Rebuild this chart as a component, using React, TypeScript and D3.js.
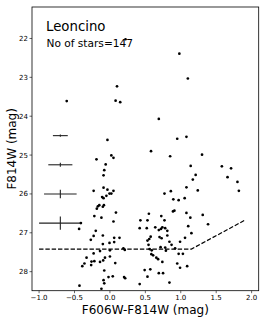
import React from "react";
import * as d3 from "d3";

const title = "Leoncino";
const subtitle = "No of stars=147";
const xLabel = "F606W-F814W (mag)";
const yLabel = "F814W (mag)";
const xTicks = [-1.0, -0.5, 0.0, 0.5, 1.0, 1.5, 2.0];
const yTicks = [22, 23, 24, 25, 26, 27, 28];

// star colours (F606W-F814W) and magnitudes (F814W)
const starColor = [
  0.98, 1.10, 0.10, -0.61, 0.08, 0.145, 0.69, -0.035, 0.95, 0.22,
  1.08, 0.58, 0.85, 1.30, 1.14, 1.58, 1.71, 1.21, 1.17, 1.66,
  1.80, 1.08, 1.82, 1.24, 0.86, 0.77, 0.895, 0.97, 1.055, -0.19,
  0.02, 0.05, -0.06, -0.08, -0.09, -0.23, -0.09, -0.035, 0.05, -0.006,
  0.02, -0.05, -0.11, -0.09, -0.15, -0.17, -0.185, -0.085, -0.10, 0.085,
  -0.22, -0.12, 0.05, -0.41, 0.55, 0.43, 0.53, 0.89, 0.91, 0.725,
  0.77, 1.08, 1.135, 1.31, 1.385, 1.105, 0.64, 0.69, 0.72, 0.74,
  0.78, 0.81, 0.70, 0.73, 0.81, 1.15, 1.06, 0.84, 0.87, 0.715,
  0.78, 0.92, 0.79, 0.99, 0.61, 0.655, 0.68, 0.74, 0.97, 1.03,
  0.57, 0.95, 0.99, 1.09, 0.69, 0.75, 0.84, -0.435, -0.20, -0.23,
  -0.27, -0.10, 0.06, 0.135, 0.06, -0.006, -0.10, -0.14, -0.23, 0.0,
  0.19, 0.21, -0.33, -0.36, -0.39, -0.26, -0.265, -0.22, -0.14, -0.095,
  0.0, -0.07, 0.075, -0.08, -0.02, 0.04, -0.09, -0.08, 0.20, 0.215,
  -0.43, -0.12, 0.42, 0.42, 0.52, 0.575, 0.555, 0.53, 0.545, 0.56,
  0.59, 0.585, 0.49, 0.53,
];
const starMag = [
  22.39, 23.03, 23.23, 23.61, 23.60, 23.64, 24.07, 24.61, 24.58, 22.02,
  24.53, 24.90, 25.03, 24.99, 25.28, 25.29, 25.34, 25.51, 25.63, 25.57,
  25.69, 25.83, 25.92, 25.91, 25.93, 25.99, 26.14, 26.16, 26.11, 25.11,
  25.01, 25.07, 25.24, 25.39, 25.52, 25.92, 25.84, 25.89, 25.92, 25.99,
  25.99, 26.05, 26.08, 26.11, 26.29, 26.32, 26.38, 26.29, 26.33, 26.48,
  26.57, 26.61, 26.71, 26.75, 26.51, 26.68, 26.68, 26.45, 26.43, 26.57,
  26.68, 26.49, 26.61, 26.54, 26.78, 26.83, 26.86, 26.93, 26.90, 26.86,
  26.88, 26.95, 27.11, 27.14, 27.07, 27.01, 27.13, 27.23, 27.31, 27.37,
  27.38, 27.40, 27.46, 27.23, 27.58, 27.64, 27.68, 27.75, 27.54, 27.54,
  27.94, 27.79, 27.90, 27.86, 28.04, 28.04, 28.28, 26.90, 26.95, 27.08,
  27.18, 27.07, 27.13, 27.13, 27.24, 27.26, 27.29, 27.47, 27.53, 27.45,
  27.40, 27.44, 27.64, 27.79, 27.86, 27.74, 27.83, 27.73, 27.75, 27.71,
  27.61, 27.64, 27.78, 27.97, 28.14, 28.12, 28.22, 28.30, 28.14, 28.17,
  28.36, 28.44, 28.32, 26.88, 26.88, 27.10, 27.16, 27.20, 27.31, 27.42,
  27.45, 27.55, 27.96, 28.13,
];

// representative photometric errors
const errMag = [24.5, 25.25, 26.0, 26.75];
const errColorCenter = [-0.7, -0.7, -0.7, -0.7];
const errColor = [0.105, 0.17, 0.23, 0.3];
const errMagSize = [0.03, 0.05, 0.11, 0.17];

// completeness limit (dashed)
const limitColor = [-1.0, 1.15, 1.9];
const limitMag = [27.42, 27.42, 26.68];

const W = 266;
const H = 322;
const left = 32;
const right = 258.7;
const top = 7;
const bottom = 290.7;

export default function App() {
  const x = d3.scaleLinear().domain([-1.1, 2.1]).range([left, right]);
  const y = d3.scaleLinear().domain([21.19, 28.49]).range([top, bottom]);
  const font = "DejaVu Sans, sans-serif";
  const fmtX = (v: number) => d3.format(".1f")(v).replace("-", "\u2212");

  const limitPts: [number, number][] = limitColor.map((c, i) => [c, limitMag[i]]);
  const line = d3
    .line<[number, number]>()
    .x((d) => x(d[0]))
    .y((d) => y(d[1]));

  return (
    <svg
      width={W}
      height={H}
      style={{ position: "absolute", left: 0, top: 0, background: "#fff" }}
    >
      <rect x={0} y={0} width={W} height={H} fill="#fff" />
      {/* error bars */}
      {errMag.map((m, i) => (
        <g key={"e" + i} stroke="#222" strokeWidth={1.1}>
          <line
            x1={x(errColorCenter[i] - errColor[i])}
            x2={x(errColorCenter[i] + errColor[i])}
            y1={y(m)}
            y2={y(m)}
          />
          <line
            x1={x(errColorCenter[i])}
            x2={x(errColorCenter[i])}
            y1={y(m - errMagSize[i])}
            y2={y(m + errMagSize[i])}
          />
        </g>
      ))}
      {/* dashed limit */}
      <path
        d={line(limitPts) || ""}
        fill="none"
        stroke="#000"
        strokeWidth={1.2}
        strokeDasharray="4.4,1.9"
      />
      {/* stars */}
      {starColor.map((c, i) => (
        <circle key={"s" + i} cx={x(c)} cy={y(starMag[i])} r={1.35} fill="#000" />
      ))}
      {/* frame */}
      <rect
        x={left}
        y={top}
        width={right - left}
        height={bottom - top}
        fill="none"
        stroke="#000"
        strokeWidth={0.8}
      />
      {/* x ticks */}
      {xTicks.map((t) => (
        <g key={"xt" + t}>
          <line x1={x(t)} x2={x(t)} y1={bottom} y2={bottom + 2.5} stroke="#000" strokeWidth={0.6} />
          <text
            x={x(t)}
            y={bottom + 9.5}
            fontSize={7}
            fontFamily={font}
            textAnchor="middle"
            fill="#000"
          >
            {fmtX(t)}
          </text>
        </g>
      ))}
      {/* y ticks */}
      {yTicks.map((t) => (
        <g key={"yt" + t}>
          <line x1={left - 2.5} x2={left} y1={y(t)} y2={y(t)} stroke="#000" strokeWidth={0.6} />
          <text
            x={left - 4}
            y={y(t) + 2.5}
            fontSize={7}
            fontFamily={font}
            textAnchor="end"
            fill="#000"
          >
            {t}
          </text>
        </g>
      ))}
      <text
        x={(left + right) / 2}
        y={314}
        fontSize={12}
        fontFamily={font}
        textAnchor="middle"
        fill="#000"
      >
        {xLabel}
      </text>
      <text
        transform={`translate(15.5,${(top + bottom) / 2}) rotate(-90)`}
        fontSize={12}
        fontFamily={font}
        textAnchor="middle"
        fill="#000"
      >
        {yLabel}
      </text>
      <text x={46} y={31} fontSize={13.3} fontFamily={font} fill="#000">
        {title}
      </text>
      <text x={46.5} y={47} fontSize={10.6} fontFamily={font} fill="#000">
        {subtitle}
      </text>
    </svg>
  );
}
